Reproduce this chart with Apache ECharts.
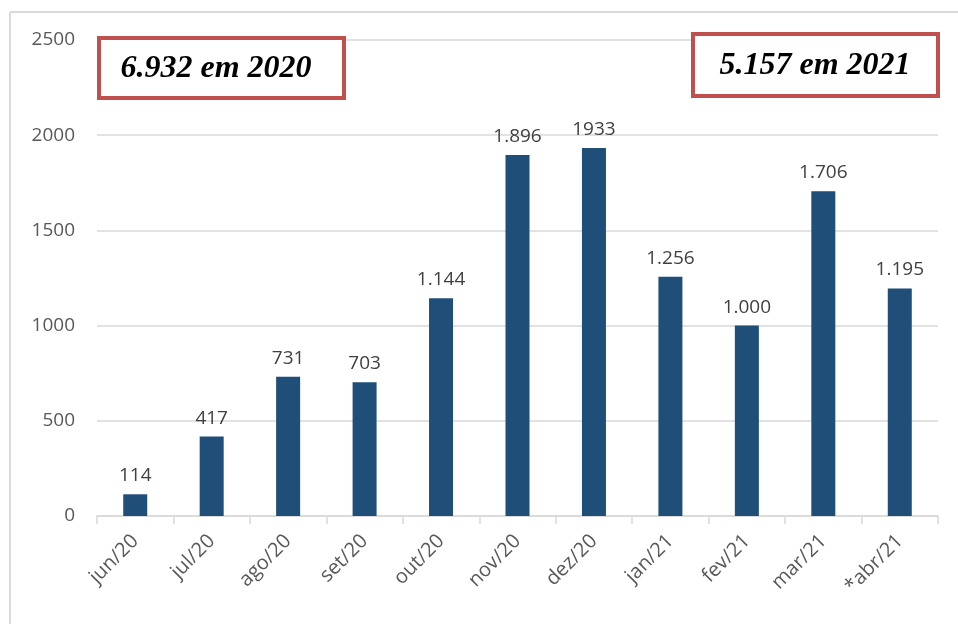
<!DOCTYPE html>
<html><head><meta charset="utf-8">
<script src="https://cdn.jsdelivr.net/npm/echarts@6/dist/echarts.min.js"></script>
<style>html,body{margin:0;padding:0;background:#fff;}#c{width:958px;height:624px;}</style>
</head><body><div id="c"></div>
<script>
const categories = ['jun/20','jul/20','ago/20','set/20','out/20','nov/20','dez/20','jan/21','fev/21','mar/21','*abr/21'];
const values = [114, 417, 731, 703, 1144, 1896, 1933, 1256, 1000, 1706, 1195];
const valueLabels = ['114','417','731','703','1.144','1.896','1933','1.256','1.000','1.706','1.195'];
const boxTexts = ['6.932 em 2020', '5.157 em 2021'];

const chart = echarts.init(document.getElementById('c'));
chart.setOption({
  animation: false,
  grid: {left: 97, right: 20, top: 40, bottom: 108, containLabel: false},
  xAxis: {
    type: 'category', data: categories,
    axisLine: {lineStyle: {color: '#d9d9d9', width: 1.5}},
    axisTick: {show: true, length: 8, lineStyle: {color: '#d9d9d9', width: 1.5}, alignWithLabel: false},
    axisLabel: {rotate: 45, color: '#595959', fontFamily: 'Open Sans', fontSize: 20, margin: 22, interval: 0}
  },
  yAxis: {
    type: 'value', min: 0, max: 2500, interval: 500,
    axisLine: {show: false}, axisTick: {show: false},
    splitLine: {lineStyle: {color: '#d9d9d9', width: 1.5}},
    axisLabel: {color: '#595959', fontFamily: 'Open Sans', fontSize: 19, margin: 22, formatter: v => String(v)}
  },
  series: [{
    type: 'bar', data: values, barWidth: 24,
    itemStyle: {color: '#1f4e79'},
    label: {show: true, position: 'top', distance: 9, color: '#404040', fontFamily: 'Open Sans', fontSize: 19,
      formatter: p => valueLabels[p.dataIndex]}
  }],
  graphic: [
    {type: 'line', shape: {x1: 10, y1: 12, x2: 958, y2: 12}, style: {stroke: '#d9d9d9', lineWidth: 2}, z: 0},
    {type: 'line', shape: {x1: 10, y1: 12, x2: 10, y2: 624}, style: {stroke: '#d9d9d9', lineWidth: 2}, z: 0},
    {type: 'rect', shape: {x: 99, y: 38, width: 245, height: 60}, style: {fill: '#fff', stroke: '#c0504d', lineWidth: 4}, z: 100},
    {type: 'text', x: 216, y: 69, style: {text: boxTexts[0], font: 'italic bold 32px "Liberation Serif"', fill: '#000', align: 'center', verticalAlign: 'middle'}, z: 101},
    {type: 'rect', shape: {x: 693, y: 34, width: 245, height: 62}, style: {fill: '#fff', stroke: '#c0504d', lineWidth: 4}, z: 100},
    {type: 'text', x: 815, y: 66, style: {text: boxTexts[1], font: 'italic bold 32px "Liberation Serif"', fill: '#000', align: 'center', verticalAlign: 'middle'}, z: 101}
  ]
});
</script></body></html>
